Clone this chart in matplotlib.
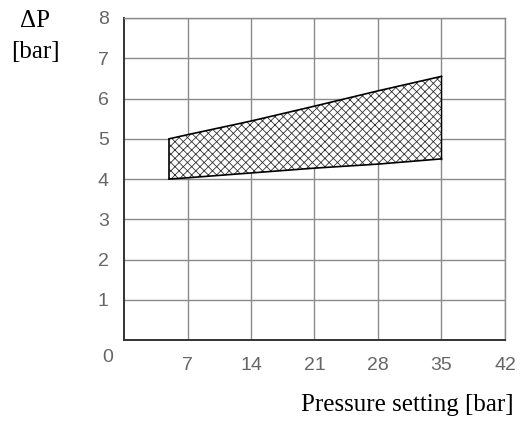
import matplotlib.pyplot as plt
from matplotlib import font_manager

# pressure setting [bar] and the band of delta P [bar]
pressure = [5, 7, 14, 21, 28, 35]
dp_upper = [5.0, 5.1, 5.44, 5.81, 6.19, 6.55]
dp_lower = [4.0, 4.03, 4.15, 4.27, 4.37, 4.5]

x_ticks = [7, 14, 21, 28, 35, 42]
y_ticks = [1, 2, 3, 4, 5, 6, 7, 8]

names = {f.name for f in font_manager.fontManager.ttflist}
tick_font = 'Liberation Sans Narrow' if 'Liberation Sans Narrow' in names else 'Liberation Sans'
label_font = 'Liberation Serif'

plt.rcParams['hatch.linewidth'] = 0.6

fig = plt.figure(figsize=(5.3, 4.25), dpi=100)
ax = fig.add_axes([124 / 530, 1 - 340 / 425, 381 / 530, 322 / 425])

ax.fill_between(pressure, dp_lower, dp_upper, facecolor='white',
                edgecolor='#333333', hatch='xxxx', linewidth=0, zorder=2)
ax.plot(pressure, dp_upper, color='black', lw=1.2, zorder=3)
ax.plot(pressure, dp_lower, color='black', lw=1.2, zorder=3)
ax.plot([pressure[0], pressure[0]], [dp_lower[0], dp_upper[0]], color='black', lw=1.2, zorder=3)
ax.plot([pressure[-1], pressure[-1]], [dp_lower[-1], dp_upper[-1]], color='black', lw=1.0, zorder=3)

ax.set_xlim(0, 42)
ax.set_ylim(0, 8)
ax.set_xticks(x_ticks)
ax.set_yticks(y_ticks)
ax.grid(True, color='#8a8a8a', lw=1.0, zorder=1)
ax.set_axisbelow(True)

for s in ['top', 'right']:
    ax.spines[s].set_color('#8a8a8a')
    ax.spines[s].set_linewidth(1.0)
for s in ['left', 'bottom']:
    ax.spines[s].set_color('#333333')
    ax.spines[s].set_linewidth(1.4)

ax.tick_params(length=0, labelsize=14, labelcolor='#666666')
ax.tick_params(axis='x', pad=12)
ax.tick_params(axis='y', pad=11)
for lab in ax.get_xticklabels() + ax.get_yticklabels():
    lab.set_fontfamily(tick_font)

fig.text(108 / 530, 1 - 357 / 425, '0', fontsize=14, color='#666666',
         fontfamily=tick_font, ha='center', va='center')

fig.text(35 / 530, 1 - 21 / 425, 'ΔP', fontsize=18, fontfamily=label_font,
         ha='center', va='center')
fig.text(35 / 530, 1 - 52 / 425, '[bar]', fontsize=18, fontfamily=label_font,
         ha='center', va='center')
fig.text(407 / 530, 1 - 405 / 425, 'Pressure setting [bar]', fontsize=18,
         fontfamily=label_font, ha='center', va='center')

fig.savefig('out.png', dpi=100)
